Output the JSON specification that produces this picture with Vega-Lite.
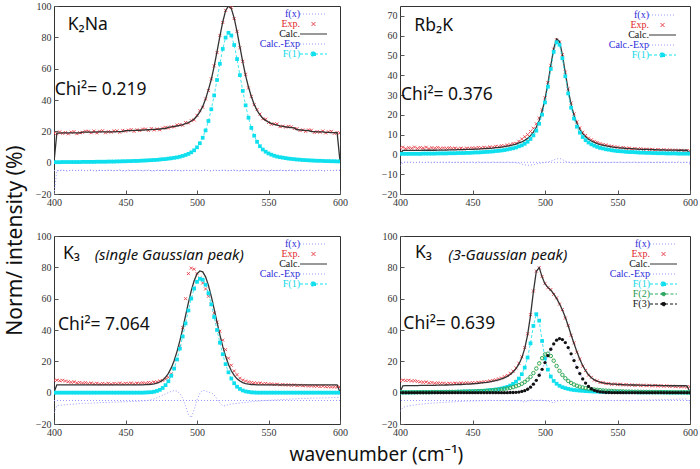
{
"$schema": "https://vega.github.io/schema/vega-lite/v6.json",
"padding": {"left": 4, "top": 0, "right": 0, "bottom": 0},
"background": "white",
"title": {"text": "Norm/ intensity (%)", "orient": "left", "anchor": "middle", "font": "Noto Sans", "fontSize": 21, "fontWeight": "normal", "color": "#111", "offset": 9, "dx": -8},
"datasets": {
"p1": [
{"x":400,"e":18.8,"c":0.3,"d":-20,"f1":0.3},{"x":402,"e":18.5,"c":18.9,"d":-5.3,"f1":0.3},{"x":404,"e":19.6,"c":18.9,"d":-4.9,"f1":0.3},{"x":406,"e":18.7,"c":19.0,"d":-4.6,"f1":0.4},{"x":408,"e":19.2,"c":19.0,"d":-5.2,"f1":0.4},{"x":410,"e":18.4,"c":19.0,"d":-5.4,"f1":0.4},{"x":412,"e":19.4,"c":19.0,"d":-4.7,"f1":0.4},{"x":414,"e":19.8,"c":19.0,"d":-5.0,"f1":0.4},{"x":416,"e":18.5,"c":19.0,"d":-5.1,"f1":0.4},{"x":418,"e":19.1,"c":19.0,"d":-4.7,"f1":0.4},
{"x":420,"e":19.3,"c":19.5,"d":-4.8,"f1":0.5},{"x":422,"e":20.1,"c":19.5,"d":-5.3,"f1":0.5},{"x":424,"e":20.0,"c":19.5,"d":-4.9,"f1":0.5},{"x":426,"e":19.1,"c":19.5,"d":-4.6,"f1":0.5},{"x":428,"e":20.2,"c":19.5,"d":-5.2,"f1":0.5},{"x":430,"e":19.0,"c":19.6,"d":-5.4,"f1":0.6},{"x":432,"e":20.0,"c":19.6,"d":-4.7,"f1":0.6},{"x":434,"e":20.4,"c":19.6,"d":-5.0,"f1":0.6},{"x":436,"e":19.1,"c":19.6,"d":-5.1,"f1":0.6},{"x":438,"e":19.8,"c":19.7,"d":-4.7,"f1":0.7},
{"x":440,"e":19.5,"c":19.7,"d":-4.8,"f1":0.7},{"x":442,"e":20.3,"c":19.7,"d":-5.3,"f1":0.7},{"x":444,"e":20.3,"c":19.8,"d":-4.9,"f1":0.8},{"x":446,"e":19.4,"c":19.8,"d":-4.6,"f1":0.8},{"x":448,"e":20.6,"c":19.9,"d":-5.2,"f1":0.9},{"x":450,"e":20.1,"c":20.4,"d":-5.4,"f1":0.9},{"x":452,"e":20.7,"c":20.5,"d":-4.7,"f1":1.0},{"x":454,"e":21.1,"c":20.5,"d":-5.0,"f1":1.0},{"x":456,"e":20.0,"c":20.6,"d":-5.1,"f1":1.1},{"x":458,"e":21.0,"c":20.6,"d":-4.7,"f1":1.1},
{"x":460,"e":20.5,"c":20.7,"d":-4.8,"f1":1.2},{"x":462,"e":21.4,"c":20.8,"d":-5.3,"f1":1.3},{"x":464,"e":21.4,"c":20.9,"d":-4.9,"f1":1.4},{"x":466,"e":20.6,"c":21.0,"d":-4.6,"f1":1.5},{"x":468,"e":21.8,"c":21.1,"d":-5.2,"f1":1.6},{"x":470,"e":20.9,"c":21.2,"d":-5.4,"f1":1.7},{"x":472,"e":21.5,"c":21.3,"d":-4.7,"f1":1.8},{"x":474,"e":21.0,"c":21.5,"d":-5.0,"f1":2.0},{"x":476,"e":22.1,"c":21.7,"d":-5.1,"f1":2.2},{"x":478,"e":22.6,"c":21.8,"d":-4.7,"f1":2.3},
{"x":480,"e":22.1,"c":22.6,"d":-4.8,"f1":2.6},{"x":482,"e":22.9,"c":22.8,"d":-5.3,"f1":2.8},{"x":484,"e":22.9,"c":23.1,"d":-4.9,"f1":3.1},{"x":486,"e":24.0,"c":23.4,"d":-4.6,"f1":3.4},{"x":488,"e":24.3,"c":23.8,"d":-5.2,"f1":3.8},{"x":490,"e":23.9,"c":24.3,"d":-5.4,"f1":4.3},{"x":492,"e":25.6,"c":24.9,"d":-4.7,"f1":4.9},{"x":494,"e":25.3,"c":25.6,"d":-5.0,"f1":5.6},{"x":496,"e":26.8,"c":26.6,"d":-5.1,"f1":6.6},{"x":498,"e":27.3,"c":27.9,"d":-4.7,"f1":7.9},
{"x":500,"e":30.2,"c":29.8,"d":-4.8,"f1":9.8},{"x":502,"e":33.2,"c":32.4,"d":-5.3,"f1":12.4},{"x":504,"e":35.4,"c":35.9,"d":-4.9,"f1":15.9},{"x":506,"e":40.7,"c":40.6,"d":-4.6,"f1":20.6},{"x":508,"e":46.0,"c":46.6,"d":-5.2,"f1":26.6},{"x":510,"e":53.5,"c":53.1,"d":-5.4,"f1":34.1},{"x":512,"e":61.8,"c":61.4,"d":-4.7,"f1":42.9},{"x":514,"e":70.3,"c":70.8,"d":-5.0,"f1":52.8},{"x":516,"e":81.2,"c":80.6,"d":-5.1,"f1":63.1},{"x":518,"e":89.5,"c":89.8,"d":-4.7,"f1":72.6},
{"x":520,"e":97.2,"c":97.0,"d":-4.8,"f1":79.8},{"x":522,"e":99.6,"c":100.0,"d":-5.3,"f1":82.9},{"x":524,"e":99.1,"c":98.4,"d":-4.9,"f1":81.2},{"x":526,"e":92.0,"c":92.3,"d":-4.6,"f1":75.1},{"x":528,"e":83.8,"c":83.6,"d":-5.2,"f1":66.1},{"x":530,"e":73.3,"c":73.9,"d":-5.4,"f1":55.9},{"x":532,"e":64.7,"c":64.3,"d":-4.7,"f1":45.8},{"x":534,"e":56.4,"c":55.6,"d":-5.0,"f1":36.6},{"x":536,"e":47.7,"c":48.2,"d":-5.1,"f1":28.7},{"x":538,"e":42.3,"c":42.2,"d":-4.7,"f1":22.2},
{"x":540,"e":37.0,"c":37.2,"d":-4.8,"f1":17.2},{"x":542,"e":33.9,"c":33.3,"d":-5.3,"f1":13.3},{"x":544,"e":31.0,"c":30.5,"d":-4.9,"f1":10.5},{"x":546,"e":28.0,"c":28.4,"d":-4.6,"f1":8.4},{"x":548,"e":27.7,"c":27.0,"d":-5.2,"f1":7.0},{"x":550,"e":25.6,"c":25.9,"d":-5.4,"f1":5.9},{"x":552,"e":24.5,"c":25.1,"d":-4.7,"f1":5.1},{"x":554,"e":24.8,"c":24.4,"d":-5.0,"f1":4.4},{"x":556,"e":24.7,"c":23.9,"d":-5.1,"f1":3.9},{"x":558,"e":23.0,"c":23.5,"d":-4.7,"f1":3.5},
{"x":560,"e":23.3,"c":23.2,"d":-4.8,"f1":3.2},{"x":562,"e":22.7,"c":22.9,"d":-5.3,"f1":2.9},{"x":564,"e":23.2,"c":22.6,"d":-4.9,"f1":2.6},{"x":566,"e":22.9,"c":22.4,"d":-4.6,"f1":2.4},{"x":568,"e":21.8,"c":22.2,"d":-5.2,"f1":2.2},{"x":570,"e":21.7,"c":21.0,"d":-5.4,"f1":2.0},{"x":572,"e":20.6,"c":20.9,"d":-4.7,"f1":1.9},{"x":574,"e":20.9,"c":20.7,"d":-5.0,"f1":1.7},{"x":576,"e":20.0,"c":20.6,"d":-5.1,"f1":1.6},{"x":578,"e":20.9,"c":20.5,"d":-4.7,"f1":1.5},
{"x":580,"e":20.7,"c":19.9,"d":-4.8,"f1":1.4},{"x":582,"e":19.3,"c":19.8,"d":-5.3,"f1":1.3},{"x":584,"e":19.8,"c":19.7,"d":-4.9,"f1":1.2},{"x":586,"e":19.5,"c":19.7,"d":-4.6,"f1":1.2},{"x":588,"e":20.2,"c":19.6,"d":-5.2,"f1":1.1},{"x":590,"e":19.0,"c":19.3,"d":-5.4,"f1":1.0},{"x":592,"e":19.7,"c":19.3,"d":-4.7,"f1":1.0},{"x":594,"e":20.0,"c":19.2,"d":-5.0,"f1":0.9},{"x":596,"e":18.7,"c":19.2,"d":-5.1,"f1":0.9},{"x":598,"e":19.2,"c":19.1,"d":-4.7,"f1":0.8},
{"x":600,"e":18.9,"c":0.8,"d":-4.8,"f1":0.8}
],
"p2": [
{"x":400,"e":3.3,"c":0.3,"d":-6.0,"f1":0.3},{"x":402,"e":3.6,"c":2.0,"d":-4.2,"f1":0.3},{"x":404,"e":2.9,"c":2.0,"d":-3.8,"f1":0.3},{"x":406,"e":3.4,"c":2.0,"d":-4.1,"f1":0.3},{"x":408,"e":3.1,"c":2.0,"d":-3.9,"f1":0.3},{"x":410,"e":3.7,"c":2.0,"d":-4.3,"f1":0.3},{"x":412,"e":3.0,"c":2.0,"d":-4.0,"f1":0.3},{"x":414,"e":3.5,"c":2.0,"d":-3.8,"f1":0.3},{"x":416,"e":3.2,"c":2.1,"d":-4.2,"f1":0.4},{"x":418,"e":3.6,"c":2.1,"d":-4.0,"f1":0.4},
{"x":420,"e":2.9,"c":2.1,"d":-3.9,"f1":0.4},{"x":422,"e":3.4,"c":2.1,"d":-4.2,"f1":0.4},{"x":424,"e":3.1,"c":2.1,"d":-3.8,"f1":0.4},{"x":426,"e":3.5,"c":2.2,"d":-4.1,"f1":0.5},{"x":428,"e":3.0,"c":2.2,"d":-4.0,"f1":0.5},{"x":430,"e":3.3,"c":2.2,"d":-3.9,"f1":0.5},{"x":432,"e":3.0,"c":2.2,"d":-4.2,"f1":0.5},{"x":434,"e":3.4,"c":2.3,"d":-3.8,"f1":0.6},{"x":436,"e":3.0,"c":2.3,"d":-4.1,"f1":0.6},{"x":438,"e":3.2,"c":2.3,"d":-4.0,"f1":0.6},
{"x":440,"e":2.9,"c":2.4,"d":-3.9,"f1":0.7},{"x":442,"e":3.2,"c":2.4,"d":-4.2,"f1":0.7},{"x":444,"e":2.8,"c":2.4,"d":-3.8,"f1":0.7},{"x":446,"e":3.2,"c":2.5,"d":-4.1,"f1":0.8},{"x":448,"e":3.0,"c":2.5,"d":-4.0,"f1":0.8},{"x":450,"e":3.3,"c":2.6,"d":-3.9,"f1":0.9},{"x":452,"e":3.2,"c":2.7,"d":-4.2,"f1":1.0},{"x":454,"e":3.5,"c":2.7,"d":-3.8,"f1":1.0},{"x":456,"e":3.3,"c":2.8,"d":-4.1,"f1":1.1},{"x":458,"e":3.6,"c":2.9,"d":-4.0,"f1":1.2},
{"x":460,"e":3.4,"c":3.0,"d":-3.9,"f1":1.3},{"x":462,"e":3.8,"c":3.1,"d":-4.2,"f1":1.4},{"x":464,"e":3.6,"c":3.2,"d":-3.8,"f1":1.5},{"x":466,"e":4.1,"c":3.4,"d":-4.1,"f1":1.7},{"x":468,"e":3.9,"c":3.5,"d":-4.0,"f1":1.8},{"x":470,"e":4.4,"c":3.7,"d":-3.9,"f1":2.0},{"x":472,"e":4.3,"c":3.9,"d":-4.2,"f1":2.2},{"x":474,"e":4.8,"c":4.2,"d":-3.8,"f1":2.5},{"x":476,"e":4.9,"c":4.5,"d":-4.1,"f1":2.8},{"x":478,"e":5.5,"c":4.8,"d":-4.0,"f1":3.1},
{"x":480,"e":5.6,"c":5.2,"d":-4.2,"f1":3.5},{"x":482,"e":6.6,"c":5.8,"d":-4.4,"f1":4.1},{"x":484,"e":7.8,"c":6.3,"d":-4.9,"f1":4.6},{"x":486,"e":8.9,"c":7.1,"d":-5.3,"f1":5.4},{"x":488,"e":10.0,"c":8.1,"d":-5.5,"f1":6.4},{"x":490,"e":11.6,"c":9.5,"d":-5.4,"f1":7.8},{"x":492,"e":13.2,"c":11.3,"d":-5.2,"f1":9.6},{"x":494,"e":15.5,"c":13.7,"d":-4.8,"f1":12.0},{"x":496,"e":18.4,"c":17.2,"d":-4.5,"f1":15.5},{"x":498,"e":22.6,"c":21.8,"d":-4.3,"f1":20.1},
{"x":500,"e":28.6,"c":28.0,"d":-4.0,"f1":26.3},{"x":502,"e":36.3,"c":35.9,"d":-3.8,"f1":34.2},{"x":504,"e":45.0,"c":44.9,"d":-3.4,"f1":43.2},{"x":506,"e":53.2,"c":53.5,"d":-2.8,"f1":51.8},{"x":508,"e":57.9,"c":58.4,"d":-2.3,"f1":56.7},{"x":510,"e":56.8,"c":57.1,"d":-2.0,"f1":55.4},{"x":512,"e":50.4,"c":50.3,"d":-2.6,"f1":48.6},{"x":514,"e":41.6,"c":41.2,"d":-3.4,"f1":39.5},{"x":516,"e":33.1,"c":32.5,"d":-3.9,"f1":30.8},{"x":518,"e":26.0,"c":25.3,"d":-4.2,"f1":23.6},
{"x":520,"e":20.5,"c":19.8,"d":-4.3,"f1":18.1},{"x":522,"e":16.4,"c":15.7,"d":-4.1,"f1":14.0},{"x":524,"e":13.4,"c":12.7,"d":-4.2,"f1":11.0},{"x":526,"e":11.2,"c":10.5,"d":-3.9,"f1":8.8},{"x":528,"e":9.6,"c":8.9,"d":-4.1,"f1":7.2},{"x":530,"e":8.2,"c":7.7,"d":-4.0,"f1":6.0},{"x":532,"e":7.4,"c":6.8,"d":-3.8,"f1":5.1},{"x":534,"e":6.6,"c":6.1,"d":-4.2,"f1":4.4},{"x":536,"e":6.1,"c":5.5,"d":-4.0,"f1":3.8},{"x":538,"e":5.5,"c":5.0,"d":-3.9,"f1":3.3},
{"x":540,"e":5.0,"c":4.7,"d":-4.1,"f1":3.0},{"x":542,"e":4.8,"c":4.3,"d":-3.8,"f1":2.6},{"x":544,"e":4.3,"c":4.1,"d":-4.2,"f1":2.4},{"x":546,"e":4.1,"c":3.8,"d":-4.0,"f1":2.1},{"x":548,"e":3.8,"c":3.6,"d":-3.9,"f1":1.9},{"x":550,"e":3.7,"c":3.4,"d":-4.1,"f1":1.7},{"x":552,"e":3.3,"c":3.3,"d":-3.8,"f1":1.6},{"x":554,"e":3.5,"c":3.2,"d":-4.2,"f1":1.5},{"x":556,"e":3.1,"c":3.0,"d":-4.0,"f1":1.3},{"x":558,"e":3.2,"c":2.9,"d":-3.9,"f1":1.2},
{"x":560,"e":2.8,"c":2.9,"d":-4.1,"f1":1.2},{"x":562,"e":3.0,"c":2.8,"d":-3.8,"f1":1.1},{"x":564,"e":2.7,"c":2.7,"d":-4.2,"f1":1.0},{"x":566,"e":2.9,"c":2.6,"d":-4.0,"f1":0.9},{"x":568,"e":2.5,"c":2.6,"d":-3.9,"f1":0.9},{"x":570,"e":2.7,"c":2.5,"d":-4.1,"f1":0.8},{"x":572,"e":2.4,"c":2.5,"d":-3.8,"f1":0.8},{"x":574,"e":2.6,"c":2.4,"d":-4.2,"f1":0.7},{"x":576,"e":2.3,"c":2.4,"d":-4.0,"f1":0.7},{"x":578,"e":2.5,"c":2.3,"d":-3.9,"f1":0.6},
{"x":580,"e":2.2,"c":2.3,"d":-4.1,"f1":0.6},{"x":582,"e":2.4,"c":2.3,"d":-3.8,"f1":0.6},{"x":584,"e":2.1,"c":2.2,"d":-4.2,"f1":0.5},{"x":586,"e":2.3,"c":2.2,"d":-4.0,"f1":0.5},{"x":588,"e":2.0,"c":2.2,"d":-3.9,"f1":0.5},{"x":590,"e":2.2,"c":2.2,"d":-4.1,"f1":0.5},{"x":592,"e":1.9,"c":2.1,"d":-3.8,"f1":0.4},{"x":594,"e":2.1,"c":2.1,"d":-4.2,"f1":0.4},{"x":596,"e":1.8,"c":2.1,"d":-4.0,"f1":0.4},{"x":598,"e":2.0,"c":2.1,"d":-3.9,"f1":0.4},
{"x":600,"e":1.8,"c":0.4,"d":-5.0,"f1":0.4}
],
"p3": [
{"x":400,"e":7.8,"c":0.2,"d":-13.0,"f1":0},{"x":402,"e":8.0,"c":5.0,"d":-8.2,"f1":0},{"x":404,"e":7.6,"c":5.0,"d":-8.0,"f1":0},{"x":406,"e":7.9,"c":5.0,"d":-7.9,"f1":0},{"x":408,"e":7.4,"c":5.0,"d":-7.7,"f1":0},{"x":410,"e":7.0,"c":5.0,"d":-7.6,"f1":0},{"x":412,"e":6.6,"c":5.0,"d":-7.4,"f1":0},{"x":414,"e":6.9,"c":5.0,"d":-7.3,"f1":0},{"x":416,"e":6.3,"c":5.0,"d":-7.1,"f1":0},{"x":418,"e":6.5,"c":5.0,"d":-7.0,"f1":0},
{"x":420,"e":6.1,"c":5.0,"d":-6.9,"f1":0},{"x":422,"e":6.4,"c":5.0,"d":-6.8,"f1":0},{"x":424,"e":5.8,"c":5.0,"d":-6.8,"f1":0},{"x":426,"e":6.2,"c":5.0,"d":-6.7,"f1":0},{"x":428,"e":5.7,"c":5.0,"d":-6.6,"f1":0},{"x":430,"e":6.0,"c":5.0,"d":-6.5,"f1":0},{"x":432,"e":5.5,"c":5.0,"d":-6.4,"f1":0},{"x":434,"e":5.9,"c":5.0,"d":-6.3,"f1":0},{"x":436,"e":5.6,"c":5.0,"d":-6.3,"f1":0},{"x":438,"e":6.0,"c":5.0,"d":-6.2,"f1":0},
{"x":440,"e":5.5,"c":5.0,"d":-6.1,"f1":0},{"x":442,"e":5.9,"c":5.0,"d":-6.0,"f1":0},{"x":444,"e":5.7,"c":5.0,"d":-6.0,"f1":0},{"x":446,"e":6.1,"c":5.0,"d":-5.9,"f1":0},{"x":448,"e":5.6,"c":5.0,"d":-5.8,"f1":0},{"x":450,"e":6.0,"c":5.0,"d":-5.8,"f1":0},{"x":452,"e":5.8,"c":5.0,"d":-5.7,"f1":0},{"x":454,"e":6.2,"c":5.0,"d":-5.6,"f1":0},{"x":456,"e":5.7,"c":5.0,"d":-5.6,"f1":0},{"x":458,"e":6.1,"c":5.0,"d":-5.5,"f1":0},
{"x":460,"e":5.9,"c":5.0,"d":-5.4,"f1":0},{"x":462,"e":6.3,"c":5.0,"d":-5.3,"f1":0},{"x":464,"e":6.0,"c":5.1,"d":-5.1,"f1":0.1},{"x":466,"e":6.5,"c":5.2,"d":-4.9,"f1":0.2},{"x":468,"e":6.3,"c":5.3,"d":-4.5,"f1":0.3},{"x":470,"e":6.8,"c":5.6,"d":-4.0,"f1":0.6},{"x":472,"e":6.9,"c":6.1,"d":-3.3,"f1":1.1},{"x":474,"e":7.5,"c":6.8,"d":-2.5,"f1":1.8},{"x":476,"e":7.8,"c":8.0,"d":-1.6,"f1":3.0},{"x":478,"e":8.6,"c":9.8,"d":-0.7,"f1":4.8},
{"x":480,"e":9.8,"c":12.3,"d":0.0,"f1":7.3},{"x":482,"e":12.0,"c":15.8,"d":0.8,"f1":10.8},{"x":484,"e":15.6,"c":20.4,"d":1.3,"f1":15.4},{"x":486,"e":21.0,"c":26.2,"d":1.0,"f1":21.2},{"x":488,"e":29.5,"c":33.1,"d":-0.5,"f1":28.1},{"x":490,"e":41.5,"c":40.8,"d":-3.5,"f1":35.8},{"x":492,"e":60.0,"c":49.2,"d":-8.5,"f1":44.2},{"x":494,"e":76.0,"c":57.5,"d":-14.0,"f1":52.5},{"x":496,"e":79.5,"c":65.1,"d":-16.0,"f1":60.1},{"x":498,"e":78.8,"c":71.4,"d":-11.0,"f1":66.4},
{"x":500,"e":76.0,"c":75.8,"d":-4.5,"f1":70.8},{"x":502,"e":73.2,"c":77.7,"d":-0.5,"f1":72.7},{"x":504,"e":70.0,"c":77.1,"d":1.5,"f1":72.1},{"x":506,"e":66.2,"c":73.9,"d":1.2,"f1":68.9},{"x":508,"e":61.5,"c":68.5,"d":0.3,"f1":63.5},{"x":510,"e":56.5,"c":61.4,"d":0.0,"f1":56.4},{"x":512,"e":50.8,"c":53.3,"d":-1.5,"f1":48.3},{"x":514,"e":45.0,"c":45.0,"d":-4.0,"f1":40.0},{"x":516,"e":39.2,"c":36.9,"d":-6.5,"f1":31.9},{"x":518,"e":33.5,"c":29.5,"d":-8.5,"f1":24.5},
{"x":520,"e":27.5,"c":23.2,"d":-8.3,"f1":18.2},{"x":522,"e":22.0,"c":18.0,"d":-7.6,"f1":13.0},{"x":524,"e":17.5,"c":14.0,"d":-7.2,"f1":9.0},{"x":526,"e":13.8,"c":11.0,"d":-7.0,"f1":6.0},{"x":528,"e":11.5,"c":8.8,"d":-6.8,"f1":3.8},{"x":530,"e":9.2,"c":7.4,"d":-6.6,"f1":2.4},{"x":532,"e":8.0,"c":6.4,"d":-6.4,"f1":1.4},{"x":534,"e":7.4,"c":5.8,"d":-6.2,"f1":0.8},{"x":536,"e":6.9,"c":5.5,"d":-6.0,"f1":0.5},{"x":538,"e":6.5,"c":5.2,"d":-5.8,"f1":0.2},
{"x":540,"e":6.3,"c":5.1,"d":-5.6,"f1":0.1},{"x":542,"e":6.0,"c":5.0,"d":-5.4,"f1":0},{"x":544,"e":6.1,"c":5.0,"d":-5.3,"f1":0},{"x":546,"e":5.7,"c":5.0,"d":-5.1,"f1":0},{"x":548,"e":5.9,"c":5.0,"d":-5.0,"f1":0},{"x":550,"e":5.5,"c":5.0,"d":-4.9,"f1":0},{"x":552,"e":5.6,"c":5.0,"d":-4.8,"f1":0},{"x":554,"e":5.2,"c":5.0,"d":-4.7,"f1":0},{"x":556,"e":5.4,"c":5.0,"d":-4.6,"f1":0},{"x":558,"e":5.0,"c":5.0,"d":-4.5,"f1":0},
{"x":560,"e":5.2,"c":5.0,"d":-4.4,"f1":0},{"x":562,"e":4.9,"c":5.0,"d":-4.3,"f1":0},{"x":564,"e":5.0,"c":5.0,"d":-4.2,"f1":0},{"x":566,"e":4.7,"c":5.0,"d":-4.1,"f1":0},{"x":568,"e":4.9,"c":5.0,"d":-4.0,"f1":0},{"x":570,"e":4.5,"c":5.0,"d":-3.9,"f1":0},{"x":572,"e":4.7,"c":5.0,"d":-3.8,"f1":0},{"x":574,"e":4.4,"c":5.0,"d":-3.7,"f1":0},{"x":576,"e":4.6,"c":5.0,"d":-3.7,"f1":0},{"x":578,"e":4.2,"c":5.0,"d":-3.6,"f1":0},
{"x":580,"e":4.4,"c":5.0,"d":-3.5,"f1":0},{"x":582,"e":4.1,"c":5.0,"d":-3.5,"f1":0},{"x":584,"e":4.2,"c":5.0,"d":-3.4,"f1":0},{"x":586,"e":3.9,"c":5.0,"d":-3.4,"f1":0},{"x":588,"e":4.1,"c":5.0,"d":-3.3,"f1":0},{"x":590,"e":3.8,"c":5.0,"d":-3.3,"f1":0},{"x":592,"e":3.9,"c":5.0,"d":-3.2,"f1":0},{"x":594,"e":3.6,"c":5.0,"d":-3.2,"f1":0},{"x":596,"e":3.8,"c":5.0,"d":-3.1,"f1":0},{"x":598,"e":3.5,"c":5.0,"d":-3.1,"f1":0},
{"x":600,"e":3.6,"c":0.2,"d":-3.0,"f1":0}
],
"p4": [
{"x":400,"e":7.6,"c":0.4,"d":-12.0,"f1":0.2,"f2":0.2,"f3":0},{"x":402,"e":8.0,"c":4.4,"d":-9.5,"f1":0.2,"f2":0.2,"f3":0},{"x":404,"e":7.7,"c":4.5,"d":-8.8,"f1":0.2,"f2":0.2,"f3":0},{"x":406,"e":7.9,"c":4.5,"d":-8.4,"f1":0.2,"f2":0.2,"f3":0},{"x":408,"e":7.5,"c":4.5,"d":-8.1,"f1":0.2,"f2":0.3,"f3":0},{"x":410,"e":7.6,"c":4.5,"d":-7.9,"f1":0.2,"f2":0.3,"f3":0},{"x":412,"e":7.2,"c":4.5,"d":-7.6,"f1":0.3,"f2":0.3,"f3":0},{"x":414,"e":6.9,"c":4.6,"d":-7.4,"f1":0.3,"f2":0.3,"f3":0},{"x":416,"e":6.6,"c":4.6,"d":-7.2,"f1":0.3,"f2":0.3,"f3":0},{"x":418,"e":6.8,"c":4.6,"d":-7.0,"f1":0.3,"f2":0.3,"f3":0},
{"x":420,"e":6.3,"c":4.6,"d":-6.9,"f1":0.3,"f2":0.3,"f3":0},{"x":422,"e":6.5,"c":4.7,"d":-6.7,"f1":0.3,"f2":0.4,"f3":0},{"x":424,"e":6.0,"c":4.7,"d":-6.6,"f1":0.3,"f2":0.4,"f3":0},{"x":426,"e":6.3,"c":4.8,"d":-6.5,"f1":0.4,"f2":0.4,"f3":0},{"x":428,"e":5.9,"c":4.8,"d":-6.3,"f1":0.4,"f2":0.4,"f3":0},{"x":430,"e":6.1,"c":4.8,"d":-6.2,"f1":0.4,"f2":0.4,"f3":0},{"x":432,"e":5.7,"c":4.9,"d":-6.1,"f1":0.4,"f2":0.5,"f3":0},{"x":434,"e":6.0,"c":5.0,"d":-6.0,"f1":0.5,"f2":0.5,"f3":0},{"x":436,"e":5.8,"c":5.0,"d":-5.9,"f1":0.5,"f2":0.5,"f3":0},{"x":438,"e":6.1,"c":5.1,"d":-5.8,"f1":0.5,"f2":0.5,"f3":0},
{"x":440,"e":5.9,"c":5.2,"d":-5.7,"f1":0.6,"f2":0.6,"f3":0},{"x":442,"e":6.2,"c":5.2,"d":-5.6,"f1":0.6,"f2":0.6,"f3":0},{"x":444,"e":6.0,"c":5.3,"d":-5.5,"f1":0.7,"f2":0.7,"f3":0},{"x":446,"e":6.3,"c":5.4,"d":-5.4,"f1":0.7,"f2":0.7,"f3":0},{"x":448,"e":6.1,"c":5.5,"d":-5.4,"f1":0.8,"f2":0.8,"f3":0},{"x":450,"e":6.4,"c":5.7,"d":-5.3,"f1":0.8,"f2":0.8,"f3":0},{"x":452,"e":6.3,"c":5.8,"d":-5.2,"f1":0.9,"f2":0.9,"f3":0},{"x":454,"e":6.6,"c":6.0,"d":-5.2,"f1":1.0,"f2":1.0,"f3":0},{"x":456,"e":6.6,"c":6.2,"d":-5.1,"f1":1.1,"f2":1.0,"f3":0},{"x":458,"e":7.0,"c":6.4,"d":-5.1,"f1":1.2,"f2":1.1,"f3":0},
{"x":460,"e":7.1,"c":6.6,"d":-5.0,"f1":1.4,"f2":1.2,"f3":0},{"x":462,"e":7.5,"c":6.9,"d":-4.8,"f1":1.6,"f2":1.4,"f3":0},{"x":464,"e":7.8,"c":7.3,"d":-5.1,"f1":1.8,"f2":1.5,"f3":0},{"x":466,"e":8.2,"c":7.7,"d":-4.9,"f1":2.0,"f2":1.7,"f3":0},{"x":468,"e":8.8,"c":8.2,"d":-5.2,"f1":2.3,"f2":1.9,"f3":0},{"x":470,"e":9.3,"c":8.8,"d":-4.8,"f1":2.7,"f2":2.1,"f3":0},{"x":472,"e":10.2,"c":9.5,"d":-5.0,"f1":3.2,"f2":2.4,"f3":0},{"x":474,"e":11.0,"c":10.4,"d":-5.2,"f1":3.7,"f2":2.7,"f3":0},{"x":476,"e":12.3,"c":11.6,"d":-4.9,"f1":4.5,"f2":3.1,"f3":0.1},{"x":478,"e":13.8,"c":13.2,"d":-5.1,"f1":5.6,"f2":3.5,"f3":0.1},
{"x":480,"e":15.8,"c":15.3,"d":-4.8,"f1":7.0,"f2":4.1,"f3":0.2},{"x":482,"e":18.8,"c":18.2,"d":-5.0,"f1":9.0,"f2":4.8,"f3":0.4},{"x":484,"e":22.9,"c":22.2,"d":-5.4,"f1":11.8,"f2":5.7,"f3":0.8},{"x":486,"e":28.8,"c":28.1,"d":-6.2,"f1":16.0,"f2":6.8,"f3":1.3},{"x":488,"e":37.6,"c":36.9,"d":-5.3,"f1":22.4,"f2":8.3,"f3":2.2},{"x":490,"e":49.8,"c":49.2,"d":-4.6,"f1":31.5,"f2":10.1,"f3":3.5},{"x":492,"e":64.9,"c":64.5,"d":-4.8,"f1":42.6,"f2":12.5,"f3":5.4},{"x":494,"e":77.6,"c":77.4,"d":-5.2,"f1":50.1,"f2":15.4,"f3":7.9},{"x":496,"e":79.7,"c":79.8,"d":-4.7,"f1":46.0,"f2":18.7,"f3":11.1},{"x":498,"e":74.2,"c":73.9,"d":-4.9,"f1":33.0,"f2":22.0,"f3":14.9},
{"x":500,"e":69.8,"c":69.4,"d":-5.1,"f1":21.8,"f2":24.4,"f3":19.2},{"x":502,"e":67.0,"c":67.2,"d":-5.3,"f1":14.7,"f2":24.9,"f3":23.6},{"x":504,"e":65.8,"c":65.4,"d":-5.8,"f1":10.3,"f2":23.4,"f3":27.7},{"x":506,"e":62.7,"c":63.0,"d":-6.6,"f1":7.5,"f2":20.4,"f3":31.1},{"x":508,"e":60.5,"c":60.2,"d":-5.4,"f1":5.7,"f2":17.0,"f3":33.5},{"x":510,"e":56.5,"c":56.8,"d":-4.9,"f1":4.4,"f2":13.9,"f3":34.5},{"x":512,"e":53.0,"c":52.7,"d":-5.1,"f1":3.5,"f2":11.3,"f3":33.9},{"x":514,"e":47.6,"c":48.1,"d":-4.8,"f1":2.9,"f2":9.2,"f3":32.0},{"x":516,"e":42.9,"c":42.7,"d":-5.0,"f1":2.4,"f2":7.5,"f3":28.8},{"x":518,"e":36.6,"c":37.0,"d":-5.2,"f1":2.0,"f2":6.2,"f3":24.8},
{"x":520,"e":31.8,"c":31.4,"d":-4.9,"f1":1.7,"f2":5.2,"f3":20.5},{"x":522,"e":25.8,"c":26.1,"d":-5.1,"f1":1.5,"f2":4.4,"f3":16.2},{"x":524,"e":21.5,"c":21.3,"d":-4.8,"f1":1.3,"f2":3.8,"f3":12.2},{"x":526,"e":16.9,"c":17.3,"d":-5.0,"f1":1.2,"f2":3.3,"f3":8.8},{"x":528,"e":14.2,"c":14.0,"d":-5.2,"f1":1.0,"f2":2.9,"f3":6.1},{"x":530,"e":11.2,"c":11.4,"d":-4.9,"f1":0.9,"f2":2.5,"f3":4.0},{"x":532,"e":9.8,"c":9.5,"d":-5.1,"f1":0.8,"f2":2.2,"f3":2.5},{"x":534,"e":8.0,"c":8.2,"d":-4.8,"f1":0.7,"f2":2.0,"f3":1.5},{"x":536,"e":7.5,"c":7.4,"d":-5.0,"f1":0.7,"f2":1.8,"f3":0.9},{"x":538,"e":6.5,"c":6.7,"d":-5.2,"f1":0.6,"f2":1.6,"f3":0.5},
{"x":540,"e":6.4,"c":6.3,"d":-4.9,"f1":0.6,"f2":1.4,"f3":0.3},{"x":542,"e":5.8,"c":5.9,"d":-5.1,"f1":0.5,"f2":1.3,"f3":0.1},{"x":544,"e":5.9,"c":5.8,"d":-4.8,"f1":0.5,"f2":1.2,"f3":0.1},{"x":546,"e":5.3,"c":5.5,"d":-5.0,"f1":0.4,"f2":1.1,"f3":0},{"x":548,"e":5.6,"c":5.4,"d":-5.2,"f1":0.4,"f2":1.0,"f3":0},{"x":550,"e":5.1,"c":5.3,"d":-4.9,"f1":0.4,"f2":0.9,"f3":0},{"x":552,"e":5.4,"c":5.2,"d":-5.1,"f1":0.4,"f2":0.9,"f3":0},{"x":554,"e":4.9,"c":5.1,"d":-4.8,"f1":0.3,"f2":0.8,"f3":0},{"x":556,"e":5.2,"c":5.0,"d":-5.0,"f1":0.3,"f2":0.7,"f3":0},{"x":558,"e":4.8,"c":5.0,"d":-5.2,"f1":0.3,"f2":0.7,"f3":0},
{"x":560,"e":5.0,"c":4.9,"d":-4.9,"f1":0.3,"f2":0.6,"f3":0},{"x":562,"e":4.6,"c":4.9,"d":-5.0,"f1":0.3,"f2":0.6,"f3":0},{"x":564,"e":4.9,"c":4.8,"d":-4.8,"f1":0.2,"f2":0.6,"f3":0},{"x":566,"e":4.5,"c":4.8,"d":-4.9,"f1":0.2,"f2":0.5,"f3":0},{"x":568,"e":4.8,"c":4.7,"d":-4.7,"f1":0.2,"f2":0.5,"f3":0},{"x":570,"e":4.4,"c":4.7,"d":-4.8,"f1":0.2,"f2":0.5,"f3":0},{"x":572,"e":4.7,"c":4.7,"d":-4.6,"f1":0.2,"f2":0.5,"f3":0},{"x":574,"e":4.3,"c":4.6,"d":-4.7,"f1":0.2,"f2":0.4,"f3":0},{"x":576,"e":4.6,"c":4.6,"d":-4.5,"f1":0.2,"f2":0.4,"f3":0},{"x":578,"e":4.2,"c":4.6,"d":-4.6,"f1":0.2,"f2":0.4,"f3":0},
{"x":580,"e":4.5,"c":4.5,"d":-4.4,"f1":0.2,"f2":0.4,"f3":0},{"x":582,"e":4.1,"c":4.5,"d":-4.5,"f1":0.2,"f2":0.3,"f3":0},{"x":584,"e":4.4,"c":4.5,"d":-4.3,"f1":0.2,"f2":0.3,"f3":0},{"x":586,"e":4.0,"c":4.4,"d":-4.4,"f1":0.1,"f2":0.3,"f3":0},{"x":588,"e":4.2,"c":4.4,"d":-4.2,"f1":0.1,"f2":0.3,"f3":0},{"x":590,"e":3.8,"c":4.4,"d":-4.3,"f1":0.1,"f2":0.3,"f3":0},{"x":592,"e":4.0,"c":4.4,"d":-4.1,"f1":0.1,"f2":0.3,"f3":0},{"x":594,"e":3.7,"c":4.4,"d":-4.2,"f1":0.1,"f2":0.3,"f3":0},{"x":596,"e":3.9,"c":4.4,"d":-4.0,"f1":0.1,"f2":0.3,"f3":0},{"x":598,"e":3.6,"c":4.3,"d":-4.1,"f1":0.1,"f2":0.2,"f3":0},
{"x":600,"e":3.8,"c":0.3,"d":-7.0,"f1":0.1,"f2":0.2,"f3":0}
]
},
"vconcat": [
{
"hconcat": [
{
"width": 286, "height": 188,
"data": {"name": "p1"},
"layer": [
{"mark": {"type": "line", "strokeDash": [1,2], "strokeWidth": 1, "clip": true},
 "encoding": {
  "x": {"field": "x", "type": "quantitative", "scale": {"domain": [400,600], "nice": false, "zero": false}, "axis": {"values": [400,450,500,550,600], "title": null, "tickCount": 20, "labelOverlap": false}},
  "y": {"field": "d", "type": "quantitative", "scale": {"domain": [-20,100], "nice": false}, "axis": {"values": [-20,0,20,40,60,80,100], "title": null, "tickCount": 20, "labelOverlap": false}},
  "color": {"datum": "Calc.-Exp", "type": "nominal",
   "scale": {"domain": ["f(x)","Exp.","Calc.","Calc.-Exp","F(1)"], "range": ["#9a9aff","#e8404a","#333333","#9a9aff","#10e0ee"]},
   "legend": {"title": null, "orient": "none", "legendX": 241, "legendY": 3, "labelAlign": "right", "labelOffset": -5, "symbolSize": 4, "symbolStrokeWidth": 1, "symbolOpacity": 1,
    "symbolType": {"expr": "datum.value=='Exp.'?'M11.5,-2L15.5,2M11.5,2L15.5,-2':datum.value=='F(1)'?'M0,0H27M11.5,-2H15.5V2H11.5Z':datum.value=='F(2)'?'M0,0H11.5M15.5,0H27M15.5,0A2,2 0 1 1 11.5,0A2,2 0 1 1 15.5,0':datum.value=='F(3)'?'M0,0H27M15.5,0A2,2 0 1 1 11.5,0A2,2 0 1 1 15.5,0':'M0,0H27'"},
    "symbolDash": {"expr": "(datum.value=='Exp.'||datum.value=='Calc.')?[]:indexof(datum.value,'F(')==0?[3,2]:[1,2]"},
    "symbolFillColor": {"expr": "datum.value=='F(1)'?'#10e0ee':datum.value=='F(3)'?'#111111':'transparent'"},
    "labelColor": {"expr": "datum.value=='Exp.'?'#e02828':datum.value=='Calc.'?'#111111':datum.value=='F(1)'?'#12d8e6':datum.value=='F(2)'?'#1f9a50':datum.value=='F(3)'?'#111111':'#2a2ad8'"}}}
 }},
{"data": {"values": [{}]}, "mark": {"type": "rule", "strokeDash": [1,2], "strokeWidth": 1}, "encoding": {"y": {"datum": -5}, "color": {"datum": "f(x)", "type": "nominal"}}},
{"mark": {"type": "point", "shape": "M-1,-1L1,1M-1,1L1,-1", "filled": false, "size": 9, "strokeWidth": 0.9, "opacity": 1, "clip": true}, "encoding": {"x": {"field": "x", "type": "quantitative"}, "y": {"field": "e", "type": "quantitative"}, "color": {"datum": "Exp.", "type": "nominal"}}},
{"mark": {"type": "line", "strokeWidth": 1.3, "clip": true}, "encoding": {"x": {"field": "x", "type": "quantitative"}, "y": {"field": "c", "type": "quantitative"}, "color": {"datum": "Calc.", "type": "nominal"}}},
{"mark": {"type": "line", "strokeDash": [3,2], "strokeWidth": 0.8, "clip": true}, "encoding": {"x": {"field": "x", "type": "quantitative"}, "y": {"field": "f1", "type": "quantitative"}, "color": {"datum": "F(1)", "type": "nominal"}}},
{"mark": {"type": "point", "shape": "square", "filled": true, "size": 14, "opacity": 1, "clip": true}, "encoding": {"x": {"field": "x", "type": "quantitative"}, "y": {"field": "f1", "type": "quantitative"}, "color": {"datum": "F(1)", "type": "nominal"}}},
{"data": {"values": [{}]}, "mark": {"type": "text", "text": "K₂Na", "align": "left", "baseline": "middle", "font": "Noto Sans", "fontSize": 17.5, "color": "#111"}, "encoding": {"x": {"datum": 409.6}, "y": {"datum": 87.7}}},
{"data": {"values": [{}]}, "mark": {"type": "text", "text": "Chi²= 0.219", "align": "left", "baseline": "middle", "font": "Noto Sans", "fontSize": 17.5, "color": "#111"}, "encoding": {"x": {"datum": 400.5}, "y": {"datum": 46.1}}}
]
},
{
"width": 290, "height": 188,
"data": {"name": "p2"},
"layer": [
{"mark": {"type": "line", "strokeDash": [1,2], "strokeWidth": 1, "clip": true},
 "encoding": {
  "x": {"field": "x", "type": "quantitative", "scale": {"domain": [400,600], "nice": false, "zero": false}, "axis": {"values": [400,450,500,550,600], "title": null, "tickCount": 20, "labelOverlap": false}},
  "y": {"field": "d", "type": "quantitative", "scale": {"domain": [-20,75], "nice": false}, "axis": {"values": [-20,-10,0,10,20,30,40,50,60,70], "title": null, "tickCount": 20, "labelOverlap": false}},
  "color": {"datum": "Calc.-Exp", "type": "nominal",
   "scale": {"domain": ["f(x)","Exp.","Calc.","Calc.-Exp","F(1)"], "range": ["#9a9aff","#e8404a","#333333","#9a9aff","#10e0ee"]},
   "legend": {"title": null, "orient": "none", "legendX": 244, "legendY": 4, "labelAlign": "right", "labelOffset": -5, "symbolSize": 4, "symbolStrokeWidth": 1, "symbolOpacity": 1,
    "symbolType": {"expr": "datum.value=='Exp.'?'M11.5,-2L15.5,2M11.5,2L15.5,-2':datum.value=='F(1)'?'M0,0H27M11.5,-2H15.5V2H11.5Z':datum.value=='F(2)'?'M0,0H11.5M15.5,0H27M15.5,0A2,2 0 1 1 11.5,0A2,2 0 1 1 15.5,0':datum.value=='F(3)'?'M0,0H27M15.5,0A2,2 0 1 1 11.5,0A2,2 0 1 1 15.5,0':'M0,0H27'"},
    "symbolDash": {"expr": "(datum.value=='Exp.'||datum.value=='Calc.')?[]:indexof(datum.value,'F(')==0?[3,2]:[1,2]"},
    "symbolFillColor": {"expr": "datum.value=='F(1)'?'#10e0ee':datum.value=='F(3)'?'#111111':'transparent'"},
    "labelColor": {"expr": "datum.value=='Exp.'?'#e02828':datum.value=='Calc.'?'#111111':datum.value=='F(1)'?'#12d8e6':datum.value=='F(2)'?'#1f9a50':datum.value=='F(3)'?'#111111':'#2a2ad8'"}}}
 }},
{"data": {"values": [{}]}, "mark": {"type": "rule", "strokeDash": [1,2], "strokeWidth": 1}, "encoding": {"y": {"datum": -4}, "color": {"datum": "f(x)", "type": "nominal"}}},
{"mark": {"type": "point", "shape": "M-1,-1L1,1M-1,1L1,-1", "filled": false, "size": 9, "strokeWidth": 0.9, "opacity": 1, "clip": true}, "encoding": {"x": {"field": "x", "type": "quantitative"}, "y": {"field": "e", "type": "quantitative"}, "color": {"datum": "Exp.", "type": "nominal"}}},
{"mark": {"type": "line", "strokeWidth": 1.3, "clip": true}, "encoding": {"x": {"field": "x", "type": "quantitative"}, "y": {"field": "c", "type": "quantitative"}, "color": {"datum": "Calc.", "type": "nominal"}}},
{"mark": {"type": "line", "strokeDash": [3,2], "strokeWidth": 0.8, "clip": true}, "encoding": {"x": {"field": "x", "type": "quantitative"}, "y": {"field": "f1", "type": "quantitative"}, "color": {"datum": "F(1)", "type": "nominal"}}},
{"mark": {"type": "point", "shape": "square", "filled": true, "size": 14, "opacity": 1, "clip": true}, "encoding": {"x": {"field": "x", "type": "quantitative"}, "y": {"field": "f1", "type": "quantitative"}, "color": {"datum": "F(1)", "type": "nominal"}}},
{"data": {"values": [{}]}, "mark": {"type": "text", "text": "Rb₂K", "align": "left", "baseline": "middle", "font": "Noto Sans", "fontSize": 17.5, "color": "#111"}, "encoding": {"x": {"datum": 409.9}, "y": {"datum": 65}}},
{"data": {"values": [{}]}, "mark": {"type": "text", "text": "Chi²= 0.376", "align": "left", "baseline": "middle", "font": "Noto Sans", "fontSize": 17.5, "color": "#111"}, "encoding": {"x": {"datum": 400.7}, "y": {"datum": 30}}}
]
}
],
"spacing": 32,
"resolve": {"scale": {"color": "independent"}, "legend": {"color": "independent"}}
},
{
"hconcat": [
{
"width": 286, "height": 188,
"data": {"name": "p3"},
"layer": [
{"mark": {"type": "line", "strokeDash": [1,2], "strokeWidth": 1, "clip": true},
 "encoding": {
  "x": {"field": "x", "type": "quantitative", "scale": {"domain": [400,600], "nice": false, "zero": false}, "axis": {"values": [400,450,500,550,600], "title": null, "tickCount": 20, "labelOverlap": false}},
  "y": {"field": "d", "type": "quantitative", "scale": {"domain": [-20,100], "nice": false}, "axis": {"values": [-20,0,20,40,60,80,100], "title": null, "tickCount": 20, "labelOverlap": false}},
  "color": {"datum": "Calc.-Exp", "type": "nominal",
   "scale": {"domain": ["f(x)","Exp.","Calc.","Calc.-Exp","F(1)"], "range": ["#9a9aff","#e8404a","#333333","#9a9aff","#10e0ee"]},
   "legend": {"title": null, "orient": "none", "legendX": 241, "legendY": 3, "labelAlign": "right", "labelOffset": -5, "symbolSize": 4, "symbolStrokeWidth": 1, "symbolOpacity": 1,
    "symbolType": {"expr": "datum.value=='Exp.'?'M11.5,-2L15.5,2M11.5,2L15.5,-2':datum.value=='F(1)'?'M0,0H27M11.5,-2H15.5V2H11.5Z':datum.value=='F(2)'?'M0,0H11.5M15.5,0H27M15.5,0A2,2 0 1 1 11.5,0A2,2 0 1 1 15.5,0':datum.value=='F(3)'?'M0,0H27M15.5,0A2,2 0 1 1 11.5,0A2,2 0 1 1 15.5,0':'M0,0H27'"},
    "symbolDash": {"expr": "(datum.value=='Exp.'||datum.value=='Calc.')?[]:indexof(datum.value,'F(')==0?[3,2]:[1,2]"},
    "symbolFillColor": {"expr": "datum.value=='F(1)'?'#10e0ee':datum.value=='F(3)'?'#111111':'transparent'"},
    "labelColor": {"expr": "datum.value=='Exp.'?'#e02828':datum.value=='Calc.'?'#111111':datum.value=='F(1)'?'#12d8e6':datum.value=='F(2)'?'#1f9a50':datum.value=='F(3)'?'#111111':'#2a2ad8'"}}}
 }},
{"data": {"values": [{}]}, "mark": {"type": "rule", "strokeDash": [1,2], "strokeWidth": 1}, "encoding": {"y": {"datum": -5}, "color": {"datum": "f(x)", "type": "nominal"}}},
{"mark": {"type": "point", "shape": "M-1,-1L1,1M-1,1L1,-1", "filled": false, "size": 9, "strokeWidth": 0.9, "opacity": 1, "clip": true}, "encoding": {"x": {"field": "x", "type": "quantitative"}, "y": {"field": "e", "type": "quantitative"}, "color": {"datum": "Exp.", "type": "nominal"}}},
{"mark": {"type": "line", "strokeWidth": 1.3, "clip": true}, "encoding": {"x": {"field": "x", "type": "quantitative"}, "y": {"field": "c", "type": "quantitative"}, "color": {"datum": "Calc.", "type": "nominal"}}},
{"mark": {"type": "line", "strokeDash": [3,2], "strokeWidth": 0.8, "clip": true}, "encoding": {"x": {"field": "x", "type": "quantitative"}, "y": {"field": "f1", "type": "quantitative"}, "color": {"datum": "F(1)", "type": "nominal"}}},
{"mark": {"type": "point", "shape": "square", "filled": true, "size": 14, "opacity": 1, "clip": true}, "encoding": {"x": {"field": "x", "type": "quantitative"}, "y": {"field": "f1", "type": "quantitative"}, "color": {"datum": "F(1)", "type": "nominal"}}},
{"data": {"values": [{}]}, "mark": {"type": "text", "text": "K₃", "align": "left", "baseline": "middle", "font": "Noto Sans", "fontSize": 17.5, "color": "#111"}, "encoding": {"x": {"datum": 406.3}, "y": {"datum": 88.7}}},
{"data": {"values": [{}]}, "mark": {"type": "text", "text": "(single Gaussian peak)", "align": "left", "baseline": "middle", "font": "Noto Sans", "fontStyle": "italic", "fontSize": 15, "color": "#111"}, "encoding": {"x": {"datum": 428.5}, "y": {"datum": 87.7}}},
{"data": {"values": [{}]}, "mark": {"type": "text", "text": "Chi²=  7.064", "align": "left", "baseline": "middle", "font": "Noto Sans", "fontSize": 17.5, "color": "#111"}, "encoding": {"x": {"datum": 402.8}, "y": {"datum": 43.3}}}
]
},
{
"width": 290, "height": 188,
"data": {"name": "p4"},
"layer": [
{"mark": {"type": "line", "strokeDash": [1,2], "strokeWidth": 1, "clip": true},
 "encoding": {
  "x": {"field": "x", "type": "quantitative", "scale": {"domain": [400,600], "nice": false, "zero": false}, "axis": {"values": [400,450,500,550,600], "title": null, "tickCount": 20, "labelOverlap": false}},
  "y": {"field": "d", "type": "quantitative", "scale": {"domain": [-20,100], "nice": false}, "axis": {"values": [-20,0,20,40,60,80,100], "title": null, "tickCount": 20, "labelOverlap": false}},
  "color": {"datum": "Calc.-Exp", "type": "nominal",
   "scale": {"domain": ["f(x)","Exp.","Calc.","Calc.-Exp","F(1)","F(2)","F(3)"], "range": ["#9a9aff","#e8404a","#333333","#9a9aff","#10e0ee","#2ea860","#111111"]},
   "legend": {"title": null, "orient": "none", "legendX": 245, "legendY": 3, "labelAlign": "right", "labelOffset": -5, "symbolSize": 4, "symbolStrokeWidth": 1, "symbolOpacity": 1,
    "symbolType": {"expr": "datum.value=='Exp.'?'M11.5,-2L15.5,2M11.5,2L15.5,-2':datum.value=='F(1)'?'M0,0H27M11.5,-2H15.5V2H11.5Z':datum.value=='F(2)'?'M0,0H11.5M15.5,0H27M15.5,0A2,2 0 1 1 11.5,0A2,2 0 1 1 15.5,0':datum.value=='F(3)'?'M0,0H27M15.5,0A2,2 0 1 1 11.5,0A2,2 0 1 1 15.5,0':'M0,0H27'"},
    "symbolDash": {"expr": "(datum.value=='Exp.'||datum.value=='Calc.')?[]:indexof(datum.value,'F(')==0?[3,2]:[1,2]"},
    "symbolFillColor": {"expr": "datum.value=='F(1)'?'#10e0ee':datum.value=='F(3)'?'#111111':'transparent'"},
    "labelColor": {"expr": "datum.value=='Exp.'?'#e02828':datum.value=='Calc.'?'#111111':datum.value=='F(1)'?'#12d8e6':datum.value=='F(2)'?'#1f9a50':datum.value=='F(3)'?'#111111':'#2a2ad8'"}}}
 }},
{"data": {"values": [{}]}, "mark": {"type": "rule", "strokeDash": [1,2], "strokeWidth": 1}, "encoding": {"y": {"datum": -5}, "color": {"datum": "f(x)", "type": "nominal"}}},
{"mark": {"type": "point", "shape": "M-1,-1L1,1M-1,1L1,-1", "filled": false, "size": 9, "strokeWidth": 0.9, "opacity": 1, "clip": true}, "encoding": {"x": {"field": "x", "type": "quantitative"}, "y": {"field": "e", "type": "quantitative"}, "color": {"datum": "Exp.", "type": "nominal"}}},
{"mark": {"type": "line", "strokeWidth": 1.3, "clip": true}, "encoding": {"x": {"field": "x", "type": "quantitative"}, "y": {"field": "c", "type": "quantitative"}, "color": {"datum": "Calc.", "type": "nominal"}}},
{"mark": {"type": "line", "strokeDash": [3,2], "strokeWidth": 0.8, "clip": true}, "encoding": {"x": {"field": "x", "type": "quantitative"}, "y": {"field": "f1", "type": "quantitative"}, "color": {"datum": "F(1)", "type": "nominal"}}},
{"mark": {"type": "point", "shape": "square", "filled": true, "size": 14, "opacity": 1, "clip": true}, "encoding": {"x": {"field": "x", "type": "quantitative"}, "y": {"field": "f1", "type": "quantitative"}, "color": {"datum": "F(1)", "type": "nominal"}}},
{"mark": {"type": "line", "strokeDash": [3,2], "strokeWidth": 0.8, "clip": true}, "encoding": {"x": {"field": "x", "type": "quantitative"}, "y": {"field": "f2", "type": "quantitative"}, "color": {"value": "#e6e07a"}}},
{"mark": {"type": "point", "shape": "circle", "filled": false, "size": 12, "strokeWidth": 1, "opacity": 1, "clip": true}, "encoding": {"x": {"field": "x", "type": "quantitative"}, "y": {"field": "f2", "type": "quantitative"}, "color": {"datum": "F(2)", "type": "nominal"}}},
{"mark": {"type": "line", "strokeDash": [2,2], "strokeWidth": 0.8, "clip": true}, "encoding": {"x": {"field": "x", "type": "quantitative"}, "y": {"field": "f3", "type": "quantitative"}, "color": {"value": "#9a9aff"}}},
{"mark": {"type": "point", "shape": "circle", "filled": true, "size": 11, "opacity": 1, "clip": true}, "encoding": {"x": {"field": "x", "type": "quantitative"}, "y": {"field": "f3", "type": "quantitative"}, "color": {"datum": "F(3)", "type": "nominal"}}},
{"data": {"values": [{}]}, "mark": {"type": "text", "text": "K₃", "align": "left", "baseline": "middle", "font": "Noto Sans", "fontSize": 17.5, "color": "#111"}, "encoding": {"x": {"datum": 410.3}, "y": {"datum": 89.2}}},
{"data": {"values": [{}]}, "mark": {"type": "text", "text": "(3-Gaussian peak)", "align": "left", "baseline": "middle", "font": "Noto Sans", "fontStyle": "italic", "fontSize": 15, "color": "#111"}, "encoding": {"x": {"datum": 433.3}, "y": {"datum": 87.7}}},
{"data": {"values": [{}]}, "mark": {"type": "text", "text": "Chi²= 0.639", "align": "left", "baseline": "middle", "font": "Noto Sans", "fontSize": 17.5, "color": "#111"}, "encoding": {"x": {"datum": 402.3}, "y": {"datum": 43.7}}}
]
}
],
"spacing": 32,
"resolve": {"scale": {"color": "independent"}, "legend": {"color": "independent"}},
"title": {"text": "wavenumber (cm⁻¹)", "orient": "bottom", "anchor": "middle", "font": "Noto Sans", "fontSize": 19, "fontWeight": "normal", "color": "#111", "offset": 8, "dx": 10}
}
],
"spacing": 22,
"resolve": {"scale": {"color": "independent"}, "legend": {"color": "independent"}},
"config": {
"view": {"stroke": "#333333", "strokeWidth": 1},
"axis": {"grid": false, "domain": false, "tickSize": -4, "tickColor": "#555555", "labelPadding": 7, "labelFont": "Liberation Serif", "labelFontSize": 10, "labelColor": "#333333", "labelFlush": false, "labelOverlap": false},
"legend": {"labelFont": "Liberation Serif", "labelFontSize": 10, "rowPadding": 0, "padding": 0, "labelLimit": 200}
}
}
